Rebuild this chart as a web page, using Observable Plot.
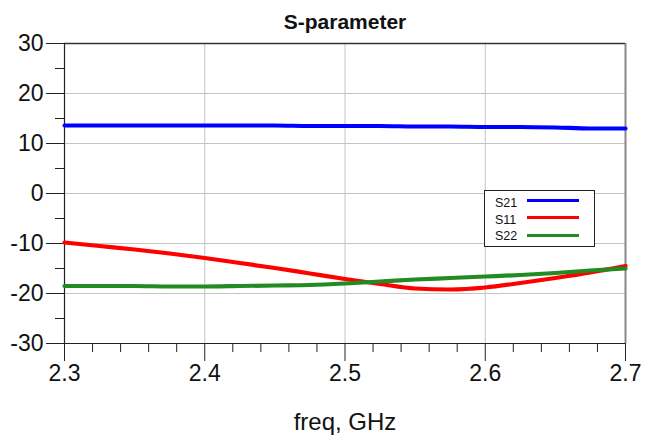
<!DOCTYPE html>
<html>
<head>
<meta charset="utf-8">
<script src="https://cdn.jsdelivr.net/npm/d3@7"></script>
<script src="https://cdn.jsdelivr.net/npm/@observablehq/plot@0.6"></script>
<style>
  body { margin: 0; background: #fff; }
  #wrap { position: relative; width: 645px; height: 439px; font-family: "Liberation Sans", Arial, sans-serif; }
  #legend { position: absolute; left: 484px; top: 190px; width: 109px; height: 55px; border: 1px solid #222; background: #fff; box-sizing: content-box; }
  .lg { position: absolute; left: 10px; font-size: 12.5px; color: #111; line-height: 1; font-family: "Liberation Sans", Arial, sans-serif; }
  .sw { position: absolute; left: 42px; width: 52px; height: 3px; }
</style>
</head>
<body>
<div id="wrap"></div>
<script>
const freq = [2.30, 2.325, 2.35, 2.375, 2.40, 2.425, 2.45, 2.475, 2.50, 2.525, 2.55, 2.575, 2.60, 2.625, 2.65, 2.675, 2.70];
const S21 = [13.6, 13.6, 13.6, 13.6, 13.6, 13.6, 13.6, 13.5, 13.5, 13.5, 13.4, 13.4, 13.3, 13.3, 13.2, 13.0, 13.0];
const S11 = [-9.8, -10.5, -11.2, -12.0, -12.9, -13.9, -14.9, -16.0, -17.1, -18.1, -19.0, -19.2, -18.8, -17.9, -16.9, -15.8, -14.5];
const S22 = [-18.5, -18.5, -18.5, -18.6, -18.6, -18.5, -18.4, -18.3, -18.0, -17.6, -17.2, -16.9, -16.6, -16.3, -15.9, -15.4, -15.0];
const seriesNames = ["S21", "S11", "S22"];
const seriesColors = ["#0000ff", "#ff0000", "#228b22"];
const xMajor = [2.3, 2.4, 2.5, 2.6, 2.7];
const xMinor = [2.32, 2.34, 2.36, 2.38, 2.42, 2.44, 2.46, 2.48, 2.52, 2.54, 2.56, 2.58, 2.62, 2.64, 2.66, 2.68];
const yMajor = [-30, -20, -10, 0, 10, 20, 30];
const yMinor = [-25, -15, -5, 5, 15, 25];
const xGrid = [2.4, 2.5, 2.6];
const yGrid = [-20, -10, 0, 10, 20];

const seriesValues = {S21, S11, S22};
const data = seriesNames.flatMap(name => freq.map((f, i) => ({freq: f, value: seriesValues[name][i], series: name})));

const chart = Plot.plot({
  width: 645,
  height: 439,
  marginLeft: 64,
  marginRight: 20,
  marginTop: 43,
  marginBottom: 96,
  style: {fontFamily: "Liberation Sans, Arial, sans-serif", background: "#fff"},
  x: {domain: [2.3, 2.7]},
  y: {domain: [-30, 30]},
  color: {domain: seriesNames, range: seriesColors},
  marks: [
    Plot.gridX(xGrid, {stroke: "#c4c4c4", strokeOpacity: 1, strokeWidth: 1}),
    Plot.gridY(yGrid, {stroke: "#c4c4c4", strokeOpacity: 1, strokeWidth: 1}),
    Plot.axisY(yMajor, {tickSize: 18, tickPadding: 3, fontSize: 23, fill: "#111", stroke: "#222", label: null, tickFormat: d => String(d)}),
    Plot.axisY(yMinor, {tickSize: 9, text: null, stroke: "#222", label: null}),
    Plot.axisX(xMajor, {tickSize: 18, tickPadding: 3, fontSize: 23, fill: "#111", stroke: "#222", label: null, tickFormat: d => d.toFixed(1)}),
    Plot.axisX(xMinor, {tickSize: 9, text: null, stroke: "#222", label: null}),
    Plot.ruleX([2.7], {stroke: "#888", strokeWidth: 2}),
    Plot.ruleY([30], {stroke: "#333", strokeWidth: 1.5}),
    Plot.ruleY([-30], {stroke: "#222", strokeWidth: 1.2}),
    Plot.ruleX([2.3], {stroke: "#222", strokeWidth: 1.2}),
    Plot.line(data, {x: "freq", y: "value", z: "series", stroke: "series", strokeWidth: 4.2, curve: "monotone-x"}),
    Plot.text(["S-parameter"], {frameAnchor: "top", lineAnchor: "bottom", dy: -15, fontSize: 21, fontWeight: "bold", fill: "#111"}),
    Plot.text(["freq, GHz"], {frameAnchor: "bottom", lineAnchor: "top", dy: 69, fontSize: 24, fill: "#111"})
  ]
});
const wrap = document.getElementById("wrap");
wrap.appendChild(chart);

const legend = document.createElement("div");
legend.id = "legend";
const textTops = [6, 23, 39];
const lineTops = [8, 25, 43];
seriesNames.forEach((name, i) => {
  const t = document.createElement("div");
  t.className = "lg";
  t.style.top = textTops[i] + "px";
  t.textContent = name;
  legend.appendChild(t);
  const s = document.createElement("div");
  s.className = "sw";
  s.style.top = lineTops[i] + "px";
  s.style.background = seriesColors[i];
  legend.appendChild(s);
});
wrap.appendChild(legend);
</script>
</body>
</html>
